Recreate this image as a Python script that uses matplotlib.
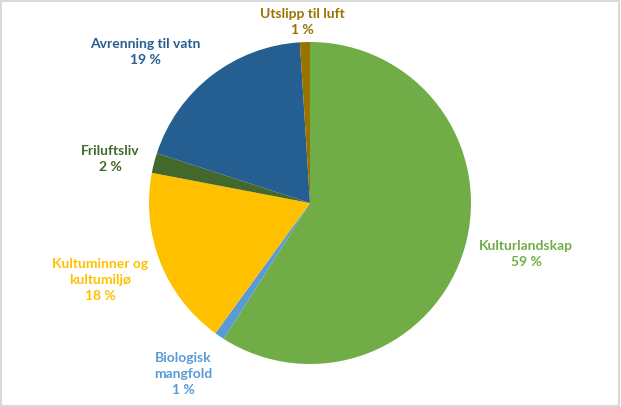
import matplotlib
matplotlib.use("Agg")
import matplotlib.pyplot as plt
from matplotlib.patches import Rectangle

# Data (andel i prosent)
kategorier = ["Kulturlandskap", "Biologisk\nmangfold", "Kultuminner og\nkultumiljø",
              "Friluftsliv", "Avrenning til vatn", "Utslipp til luft"]
andeler = [59, 1, 18, 2, 19, 1]
farger = ["#70AD47", "#5B9BD5", "#FFC000", "#43682B", "#255E91", "#997300"]

# label positions in pixel coords (x, y from top)
label_pos = [(526, 254), (183, 374), (100, 280), (110, 159), (145, 52), (302, 22)]

W, H = 621, 407
fig = plt.figure(figsize=(W / 100, H / 100), dpi=100)
ax = fig.add_axes([0, 0, 1, 1])

ax.pie(andeler, colors=farger, startangle=90, counterclock=False,
       center=(310, H - 203), radius=161, frame=False,
       wedgeprops=dict(linewidth=0))

for navn, v, farge, (x, y) in zip(kategorier, andeler, farger, label_pos):
    ax.text(x, H - y, f"{navn}\n{v} %", color=farge, ha="center", va="center",
            fontsize=10, fontweight="bold", family="Lato", linespacing=1.35)

ax.set_xlim(0, W)
ax.set_ylim(0, H)
ax.set_axis_off()

# grey frame round the chart
fig.patches.append(Rectangle((0.002, 0.003), 0.995, 0.994, transform=fig.transFigure,
                             fill=False, edgecolor="#D9D9D9", linewidth=1.5))

fig.savefig("out.png", dpi=100)
